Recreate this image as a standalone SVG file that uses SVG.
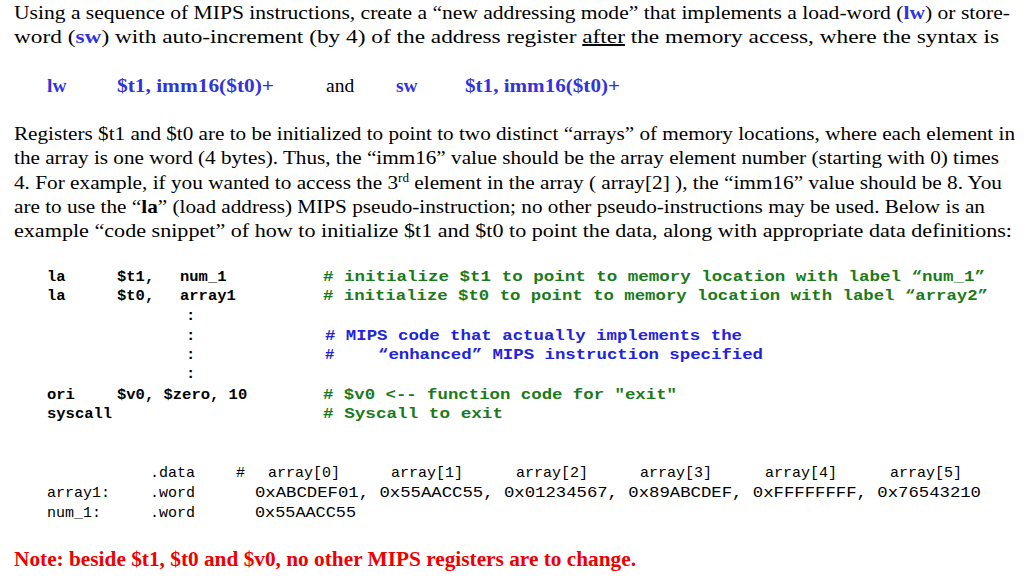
<svg xmlns="http://www.w3.org/2000/svg" width="1024" height="577" viewBox="0 0 1024 577">
<style>
.t{font-family:"Liberation Serif",serif;font-size:19.5px;fill:#000}
.b{font-family:"Liberation Serif",serif;font-size:19.5px;font-weight:bold;fill:#3333dd}
.c{font-family:"Liberation Mono",monospace;font-size:15.5px;font-weight:bold;fill:#000}
.g{font-family:"Liberation Mono",monospace;font-size:15.5px;font-weight:bold;fill:#1a7a1a}
.bl{font-family:"Liberation Mono",monospace;font-size:15.5px;font-weight:bold;fill:#2222dd}
.d{font-family:"Liberation Mono",monospace;font-size:15px;fill:#000}
.r{font-family:"Liberation Serif",serif;font-size:20px;font-weight:bold;fill:#ee0000}
</style>
<rect width="1024" height="577" fill="#fff"/>
<g id="intro">
<text class="t" x="14" y="19" textLength="996" lengthAdjust="spacingAndGlyphs">Using a sequence of MIPS instructions, create a “new addressing mode” that implements a load-word (<tspan class="b">lw</tspan>) or store-</text>
<text class="t" x="14" y="43" textLength="985" lengthAdjust="spacingAndGlyphs">word (<tspan class="b">sw</tspan>) with auto-increment (by 4) of the address register <tspan text-decoration="underline">after</tspan> the memory access, where the syntax is</text>
</g>
<g id="syntax">
<text class="b" x="47" y="92">lw</text>
<text class="b" x="117" y="92" textLength="157" lengthAdjust="spacingAndGlyphs">$t1, imm16($t0)+</text>
<text class="t" x="326" y="92">and</text>
<text class="b" x="396" y="92">sw</text>
<text class="b" x="465" y="92" textLength="155" lengthAdjust="spacingAndGlyphs">$t1, imm16($t0)+</text>
</g>
<g id="para">
<text class="t" x="14" y="140" textLength="1001" lengthAdjust="spacingAndGlyphs">Registers $t1 and $t0 are to be initialized to point to two distinct “arrays” of memory locations, where each element in</text>
<text class="t" x="14" y="164" textLength="985" lengthAdjust="spacingAndGlyphs">the array is one word (4 bytes). Thus, the “imm16” value should be the array element number (starting with 0) times</text>
<text class="t" x="14" y="189" textLength="988" lengthAdjust="spacingAndGlyphs">4. For example, if you wanted to access the 3<tspan font-size="12" dy="-7">rd</tspan><tspan dy="7"> element in the array ( array[2] ), the “imm16” value should be 8. You</tspan></text>
<text class="t" x="14" y="213" textLength="971" lengthAdjust="spacingAndGlyphs">are to use the “<tspan font-weight="bold">la</tspan>” (load address) MIPS pseudo-instruction; no other pseudo-instructions may be used. Below is an</text>
<text class="t" x="14" y="237" textLength="998" lengthAdjust="spacingAndGlyphs">example “code snippet” of how to initialize $t1 and $t0 to point the data, along with appropriate data definitions:</text>
</g>
<g id="code">
<text class="c" x="47" y="281">la</text><text class="c" x="117" y="281">$t1,</text><text class="c" x="180" y="281">num_1</text>
<text class="c" x="47" y="300">la</text><text class="c" x="117" y="300">$t0,</text><text class="c" x="180" y="300">array1</text>
<text class="c" x="186" y="320">:</text>
<text class="c" x="186" y="340">:</text>
<text class="c" x="186" y="359">:</text>
<text class="c" x="186" y="378">:</text>
<text class="c" x="47" y="399">ori</text><text class="c" x="117" y="399">$v0, $zero, 10</text>
<text class="c" x="47" y="418">syscall</text>
<text class="g" x="323" y="281" textLength="662" lengthAdjust="spacingAndGlyphs"># initialize $t1 to point to memory location with label “num_1”</text>
<text class="g" x="323" y="300" textLength="665" lengthAdjust="spacingAndGlyphs"># initialize $t0 to point to memory location with label “array2”</text>
<text class="bl" x="325" y="340" textLength="417" lengthAdjust="spacingAndGlyphs"># MIPS code that actually implements the</text>
<text class="bl" x="325" y="359">#</text>
<text class="bl" x="378" y="359" textLength="385" lengthAdjust="spacingAndGlyphs">“enhanced” MIPS instruction specified</text>
<text class="g" x="323" y="399" textLength="354" lengthAdjust="spacingAndGlyphs"># $v0 &lt;-- function code for "exit"</text>
<text class="g" x="323" y="418" textLength="180" lengthAdjust="spacingAndGlyphs"># Syscall to exit</text>
</g>
<g id="data">
<text class="d" x="150" y="477">.data</text><text class="d" x="236" y="477">#</text>
<text class="d" x="268" y="477">array[0]</text><text class="d" x="391" y="477">array[1]</text><text class="d" x="516" y="477">array[2]</text><text class="d" x="640" y="477">array[3]</text><text class="d" x="765" y="477">array[4]</text><text class="d" x="890" y="477">array[5]</text>
<text class="d" x="47" y="497">array1:</text><text class="d" x="150" y="497">.word</text>
<text class="d" x="255" y="497" textLength="726" lengthAdjust="spacingAndGlyphs">0xABCDEF01, 0x55AACC55, 0x01234567, 0x89ABCDEF, 0xFFFFFFFF, 0x76543210</text>
<text class="d" x="47" y="517">num_1:</text><text class="d" x="150" y="517">.word</text>
<text class="d" x="255" y="517" textLength="101" lengthAdjust="spacingAndGlyphs">0x55AACC55</text>
</g>
<text class="r" x="14" y="566" textLength="622" lengthAdjust="spacingAndGlyphs">Note: beside $t1, $t0  and $v0, no other MIPS registers are to change.</text>
</svg>
